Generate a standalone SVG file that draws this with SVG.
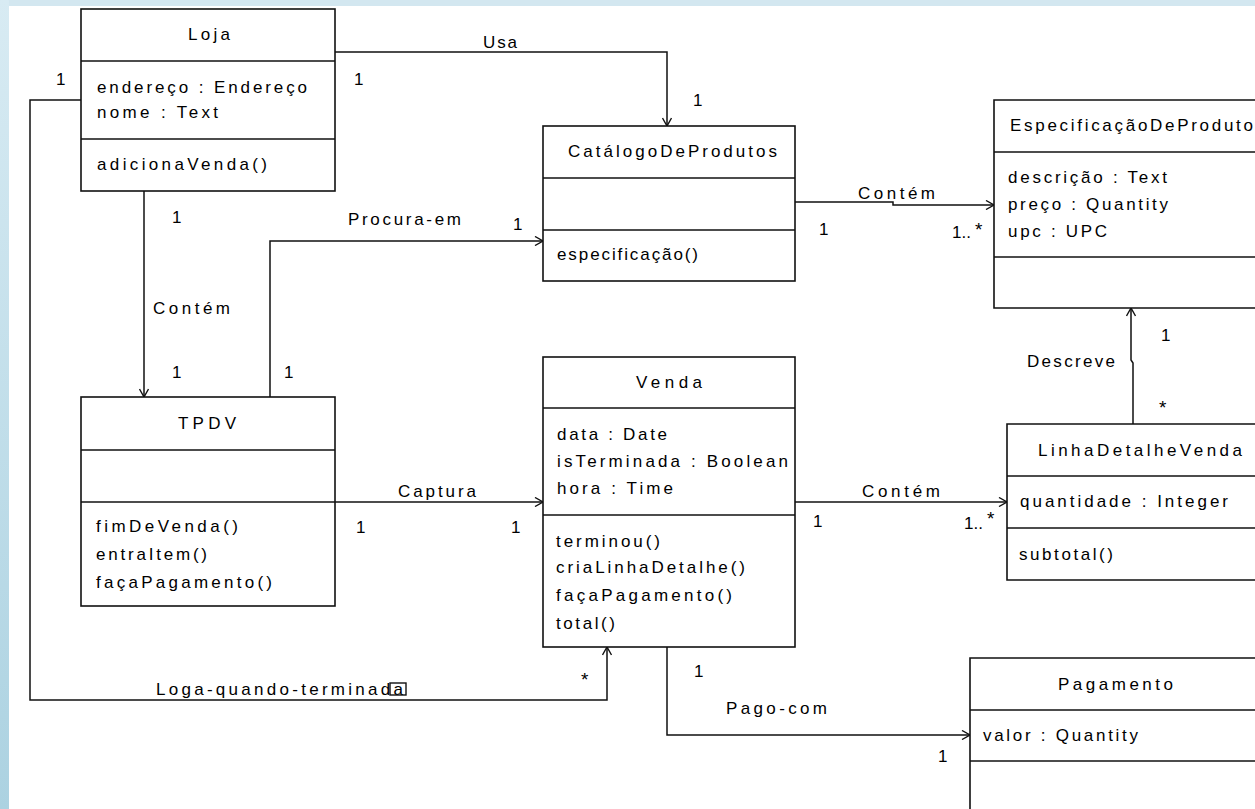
<svg xmlns="http://www.w3.org/2000/svg" width="1255" height="809" viewBox="0 0 1255 809">
<defs>
<linearGradient id="lg" x1="0" y1="0" x2="0" y2="1">
<stop offset="0" stop-color="#d8ebf3"/>
<stop offset="1" stop-color="#acd2e1"/>
</linearGradient>
<marker id="ar" viewBox="0 0 10 10" refX="9" refY="5" markerWidth="10" markerHeight="10" markerUnits="userSpaceOnUse" orient="auto">
<path d="M1,0.5 L9,5 L1,9.5" fill="none" stroke="#111" stroke-width="1.4"/>
</marker>
<style>
.box{fill:#fff;stroke:#111;stroke-width:1.6}
.dv{stroke:#111;stroke-width:1.6;fill:none}
.t{font-family:"Liberation Sans",Arial,sans-serif;font-size:17px;fill:#000}
.s{font-size:19px}
.c{fill:none;stroke:#111;stroke-width:1.5}
</style>
</defs>
<rect x="0" y="0" width="1255" height="809" fill="#fff"/>
<rect x="0" y="0" width="1255" height="6" fill="#d3e7f0"/>
<rect x="0" y="0" width="9" height="809" fill="url(#lg)"/>

<g id="connectors">
<polyline class="c" points="333,52 667,52 667,126" marker-end="url(#ar)"/>
<polyline class="c" points="270,397 270,241 543,241" marker-end="url(#ar)"/>
<polyline class="c" points="795,202 893,202 893,205 994,205" marker-end="url(#ar)"/>
<polyline class="c" points="144,191 144,397" marker-end="url(#ar)"/>
<polyline class="c" points="335,502 543,502" marker-end="url(#ar)"/>
<polyline class="c" points="795,502 1007,502" marker-end="url(#ar)"/>
<polyline class="c" points="1133,424 1133,363 1131,360 1131,308" marker-end="url(#ar)"/>
<polyline class="c" points="81,100 30,100 30,700 607,700 607,647" marker-end="url(#ar)"/>
<polyline class="c" points="667,647 667,735 970,735" marker-end="url(#ar)"/>

<text class="t" x="483" y="48" textLength="34" lengthAdjust="spacing">Usa</text>
<text class="t" x="348" y="225" textLength="113" lengthAdjust="spacing">Procura-em</text>
<text class="t" x="858" y="199" textLength="77" lengthAdjust="spacing">Contém</text>
<text class="t" x="153" y="314" textLength="77" lengthAdjust="spacing">Contém</text>
<text class="t" x="398" y="497" textLength="78" lengthAdjust="spacing">Captura</text>
<text class="t" x="862" y="497" textLength="78" lengthAdjust="spacing">Contém</text>
<text class="t" x="1027" y="367" textLength="88" lengthAdjust="spacing">Descreve</text>
<text class="t" x="156" y="695" textLength="247" lengthAdjust="spacing">Loga-quando-terminada</text>
<rect x="390" y="683" width="16" height="12" fill="none" stroke="#111" stroke-width="1.4"/>
<text class="t" x="726" y="714" textLength="101" lengthAdjust="spacing">Pago-com</text>

<text class="t" x="56" y="85">1</text>
<text class="t" x="354" y="85">1</text>
<text class="t" x="693" y="106">1</text>
<text class="t" x="172" y="223">1</text>
<text class="t" x="172" y="378">1</text>
<text class="t" x="284" y="378">1</text>
<text class="t" x="513" y="230">1</text>
<text class="t" x="819" y="235">1</text>
<text class="t" x="952" y="238">1..</text>
<text class="t s" x="975" y="236">*</text>
<text class="t" x="1161" y="341">1</text>
<text class="t s" x="1159" y="414">*</text>
<text class="t" x="356" y="533">1</text>
<text class="t" x="511" y="533">1</text>
<text class="t" x="813" y="527">1</text>
<text class="t" x="964" y="529">1..</text>
<text class="t s" x="987" y="525">*</text>
<text class="t s" x="581" y="686">*</text>
<text class="t" x="694" y="677">1</text>
<text class="t" x="938" y="762">1</text>
</g>

<g id="loja">
<rect class="box" x="81" y="9" width="254" height="182"/>
<line class="dv" x1="81" y1="61" x2="335" y2="61"/>
<line class="dv" x1="81" y1="139" x2="335" y2="139"/>
<text class="t" x="188" y="40" textLength="42" lengthAdjust="spacing">Loja</text>
<text class="t" x="97" y="93" textLength="210" lengthAdjust="spacing">endereço : Endereço</text>
<text class="t" x="97" y="118" textLength="121" lengthAdjust="spacing">nome : Text</text>
<text class="t" x="97" y="170" textLength="170" lengthAdjust="spacing">adicionaVenda()</text>
</g>

<g id="catalogo">
<rect class="box" x="543" y="126" width="252" height="155"/>
<line class="dv" x1="543" y1="178" x2="795" y2="178"/>
<line class="dv" x1="543" y1="230" x2="795" y2="230"/>
<text class="t" x="568" y="157" textLength="209" lengthAdjust="spacing">CatálogoDeProdutos</text>
<text class="t" x="557" y="260" textLength="141" lengthAdjust="spacing">especificação()</text>
</g>

<g id="especificacao">
<path class="box" d="M1256,100 H994 V308 H1256"/>
<line class="dv" x1="994" y1="152" x2="1255" y2="152"/>
<line class="dv" x1="994" y1="257" x2="1255" y2="257"/>
<text class="t" x="1010" y="131" textLength="243" lengthAdjust="spacing">EspecificaçãoDeProduto</text>
<text class="t" x="1008" y="183" textLength="159" lengthAdjust="spacing">descrição : Text</text>
<text class="t" x="1008" y="210" textLength="160" lengthAdjust="spacing">preço : Quantity</text>
<text class="t" x="1008" y="237" textLength="99" lengthAdjust="spacing">upc : UPC</text>
</g>

<g id="tpdv">
<rect class="box" x="81" y="397" width="254" height="209"/>
<line class="dv" x1="81" y1="450" x2="335" y2="450"/>
<line class="dv" x1="81" y1="502" x2="335" y2="502"/>
<text class="t" x="178" y="429" textLength="58" lengthAdjust="spacing">TPDV</text>
<text class="t" x="96" y="532" textLength="142" lengthAdjust="spacing">fimDeVenda()</text>
<text class="t" x="96" y="560" textLength="111" lengthAdjust="spacing">entraItem()</text>
<text class="t" x="96" y="588" textLength="176" lengthAdjust="spacing">façaPagamento()</text>
</g>

<g id="venda">
<rect class="box" x="543" y="357" width="252" height="290"/>
<line class="dv" x1="543" y1="408" x2="795" y2="408"/>
<line class="dv" x1="543" y1="515" x2="795" y2="515"/>
<text class="t" x="636" y="388" textLength="66" lengthAdjust="spacing">Venda</text>
<text class="t" x="557" y="440" textLength="110" lengthAdjust="spacing">data : Date</text>
<text class="t" x="557" y="467" textLength="231" lengthAdjust="spacing">isTerminada : Boolean</text>
<text class="t" x="557" y="494" textLength="116" lengthAdjust="spacing">hora : Time</text>
<text class="t" x="556" y="547" textLength="104" lengthAdjust="spacing">terminou()</text>
<text class="t" x="556" y="573" textLength="189" lengthAdjust="spacing">criaLinhaDetalhe()</text>
<text class="t" x="556" y="601" textLength="176" lengthAdjust="spacing">façaPagamento()</text>
<text class="t" x="556" y="629" textLength="59" lengthAdjust="spacing">total()</text>
</g>

<g id="linha">
<path class="box" d="M1256,424 H1007 V580 H1256"/>
<line class="dv" x1="1007" y1="476" x2="1255" y2="476"/>
<line class="dv" x1="1007" y1="528" x2="1255" y2="528"/>
<text class="t" x="1038" y="456" textLength="204" lengthAdjust="spacing">LinhaDetalheVenda</text>
<text class="t" x="1020" y="507" textLength="208" lengthAdjust="spacing">quantidade : Integer</text>
<text class="t" x="1019" y="560" textLength="94" lengthAdjust="spacing">subtotal()</text>
</g>

<g id="pagamento">
<path class="box" d="M1256,658 H970 V810"/>
<line class="dv" x1="970" y1="710" x2="1255" y2="710"/>
<line class="dv" x1="970" y1="761" x2="1255" y2="761"/>
<text class="t" x="1058" y="690" textLength="115" lengthAdjust="spacing">Pagamento</text>
<text class="t" x="983" y="741" textLength="155" lengthAdjust="spacing">valor : Quantity</text>
</g>
</svg>
